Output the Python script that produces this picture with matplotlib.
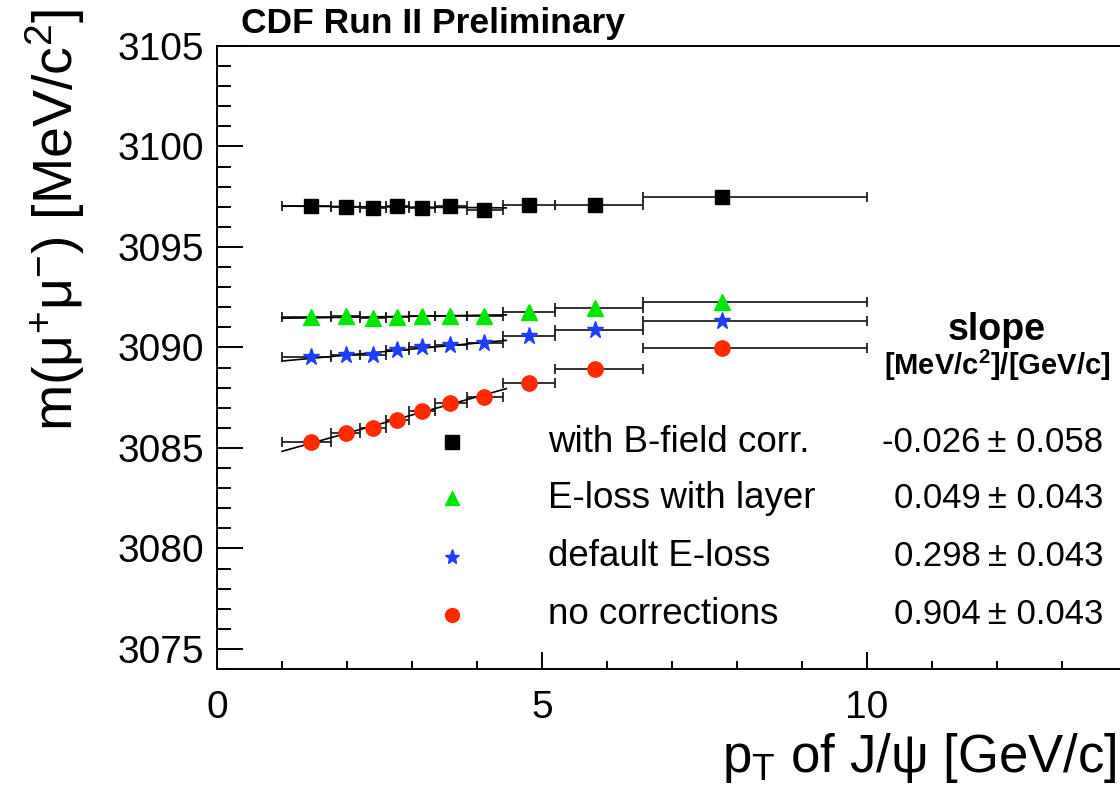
import numpy as np
import matplotlib
matplotlib.use("Agg")
import matplotlib.pyplot as plt
from matplotlib.ticker import MultipleLocator

plt.rcParams['font.family'] = ['Liberation Sans', 'DejaVu Sans']
plt.rcParams['mathtext.fontset'] = 'custom'
plt.rcParams['mathtext.rm'] = 'Liberation Sans'
plt.rcParams['mathtext.it'] = 'Liberation Sans:italic'
plt.rcParams['mathtext.bf'] = 'Liberation Sans:bold'

# mean pT in each bin and the bin edges
pt = [1.45, 1.99, 2.40, 2.77, 3.15, 3.58, 4.10, 4.80, 5.81, 7.77]
edges = [1.0, 1.75, 2.2, 2.6, 2.95, 3.35, 3.85, 4.4, 5.2, 6.55, 10.0]

m_bfield = [3097.06, 3097.00, 3096.96, 3097.06, 3096.94, 3097.06, 3096.84, 3097.09, 3097.10, 3097.47]
m_layer = [3091.53, 3091.55, 3091.45, 3091.53, 3091.58, 3091.56, 3091.58, 3091.75, 3091.95, 3092.25]
m_default = [3089.51, 3089.64, 3089.63, 3089.85, 3090.00, 3090.12, 3090.22, 3090.55, 3090.85, 3091.33]
m_nocorr = [3085.31, 3085.73, 3085.98, 3086.41, 3086.86, 3087.22, 3087.55, 3088.23, 3088.93, 3089.98]

labels = ["with B-field corr.", "E-loss with layer", "default E-loss", "no corrections"]
slopes = [-0.026, 0.049, 0.298, 0.904]
slope_errs = [0.058, 0.043, 0.043, 0.043]

fit_range = (1.0, 4.45)
nfit = 7

series = [m_bfield, m_layer, m_default, m_nocorr]
markers = ["s", "^", "*", "o"]
colors = ["black", "#00e600", "#1f3dff", "#ff2a00"]
msizes = [10.5, 11.5, 12.5, 11]

fig = plt.figure(figsize=(11.2, 7.85), dpi=100)
ax = fig.add_axes([217/1120, 1 - 669/785, 910/1120, (669 - 46)/785])

x = np.array(pt)
e = np.array(edges)
xlo = x - e[:-1]
xhi = e[1:] - x

for m, mk, c, ms, s in zip(series, markers, colors, msizes, slopes):
    m = np.array(m)
    ax.errorbar(x, m, xerr=[xlo, xhi], fmt="none", ecolor="#222222",
                elinewidth=1.3, capsize=3.5, capthick=1.3, zorder=2)
    # straight line fit with the quoted slope over the low-pT bins
    b = np.mean(m[:nfit] - s * x[:nfit])
    xf = np.array(fit_range)
    ax.plot(xf, b + s * xf, color="black", lw=1.2, zorder=3)
    ax.plot(x, m, mk, color=c, ms=ms, mec=c, zorder=4, clip_on=False)

ax.set_xlim(0, 14)
ax.set_ylim(3074, 3105)
ax.xaxis.set_major_locator(MultipleLocator(5))
ax.xaxis.set_minor_locator(MultipleLocator(1))
ax.yaxis.set_major_locator(MultipleLocator(5))
ax.yaxis.set_minor_locator(MultipleLocator(1))
ax.tick_params(axis="both", which="both", direction="in", width=1.4,
               top=False, right=False, labelsize=28)
ax.tick_params(axis="y", which="major", length=19, pad=9)
ax.tick_params(axis="y", which="minor", length=10)
ax.tick_params(axis="x", which="major", length=12, pad=15)
ax.tick_params(axis="x", which="minor", length=6)
for sp in ax.spines.values():
    sp.set_linewidth(1.4)
ax.spines["right"].set_visible(False)

fig.text(55/1120, 1 - 9/785, "m(μ$^{+}$μ$^{-}$) [MeV/c$^{2}$]", rotation=90,
         ha="center", va="top", fontsize=40)
fig.text(1116/1120, 1 - 758/785, "p$_{\\mathrm{T}}$ of J/ψ [GeV/c]",
         ha="right", va="center", fontsize=38)
fig.text(241/1120, 1 - 24/785, "CDF Run II Preliminary", ha="left", va="center",
         fontsize=25.5, fontweight="bold")

# legend block with fitted slopes
rows_y = [0.364, 0.274, 0.180, 0.087]
for lab, mk, c, s, se, yy in zip(labels, markers, colors, slopes, slope_errs, rows_y):
    ax.plot([0.258], [yy], mk, color=c, mec=c, ms=10 if mk != "*" else 11,
            transform=ax.transAxes, clip_on=False)
    ax.text(0.364, yy, lab, transform=ax.transAxes, ha="left", va="center", fontsize=26.5)
    ax.text(0.974, yy, f"{s:.3f}\u2009± {se:.3f}", transform=ax.transAxes,
            ha="right", va="center", fontsize=25)

ax.text(0.857, 0.544, "slope", transform=ax.transAxes, ha="center", va="center",
        fontsize=27, fontweight="bold")
ax.text(0.857, 0.488, r"[MeV/c$^{\mathbf{2}}$]/[GeV/c]", transform=ax.transAxes,
        ha="center", va="center", fontsize=21, fontweight="bold")

fig.savefig("out.png", dpi=100)
